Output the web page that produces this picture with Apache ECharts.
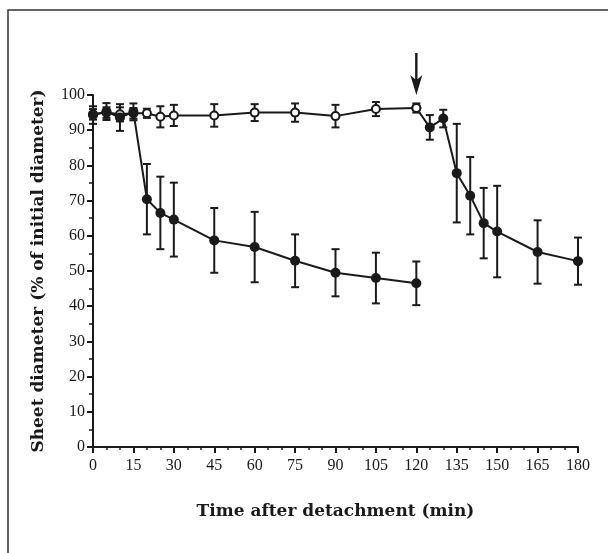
<!DOCTYPE html>
<html><head><meta charset="utf-8">
<script src="https://cdn.jsdelivr.net/npm/echarts@6/dist/echarts.min.js"></script>
<style>html,body{margin:0;padding:0;background:#fff}#c{width:608px;height:553px}</style>
</head><body><div id="c"></div>
<script>
var timeA = [0,5,10,15,20,25,30,45,60,75,90,105,120];
var openVals = [94.5,95.0,94.5,94.8,94.8,93.8,94.2,94.2,95.0,95.0,94.0,96.0,96.3];
var openErr = [1.5,1.5,2.0,1.5,1.3,3.0,3.0,3.2,2.4,2.6,3.2,2.0,1.3];
var filledVals1 = [94.3,95.3,93.6,95.2,70.4,66.5,64.6,58.7,56.8,52.9,49.5,48.0,46.5];
var filledErr1 = [2.5,2.4,3.8,2.4,10.0,10.3,10.5,9.2,10.0,7.5,6.7,7.2,6.2];
var timeB = [120,125,130,135,140,145,150,165,180];
var filledVals2 = [96.3,90.8,93.3,77.8,71.4,63.6,61.2,55.4,52.8];
var filledErr2 = [0,3.5,2.5,14.0,11.0,10.0,13.0,9.0,6.7];
var xTicks = [0,15,30,45,60,75,90,105,120,135,150,165,180];

var ink = '#1a1a1a';
var serif = '"Liberation Serif","Times New Roman",serif';
var nameFont = '"DejaVu Serif","Liberation Serif",serif';

function pairs(t, v){ return t.map(function(x,i){ return [x, v[i]]; }); }
function errData(t, v, e){ return t.map(function(x,i){ return [x, v[i]-e[i], v[i]+e[i]]; }).filter(function(d){return d[2]>d[1];}); }

function errSeries(data){
  return {
    type:'custom', data:data, z:1, silent:true,
    renderItem:function(params, api){
      var x = api.value(0);
      var lo = api.coord([x, api.value(1)]);
      var hi = api.coord([x, api.value(2)]);
      var w = 4;
      var st = {stroke:ink, lineWidth:2, fill:null};
      return {type:'group', children:[
        {type:'line', shape:{x1:lo[0],y1:lo[1],x2:hi[0],y2:hi[1]}, style:st},
        {type:'line', shape:{x1:lo[0]-w,y1:lo[1],x2:lo[0]+w,y2:lo[1]}, style:st},
        {type:'line', shape:{x1:hi[0]-w,y1:hi[1],x2:hi[0]+w,y2:hi[1]}, style:st}
      ]};
    }
  };
}

var chart = echarts.init(document.getElementById('c'));
chart.setOption({
  animation:false,
  backgroundColor:'#fff',
  graphic:[{type:'rect', shape:{x:8,y:10,width:640,height:600}, style:{fill:null, stroke:'#333', lineWidth:1.5}, z:-1}],
  grid:{left:93, right:30, top:95, bottom:106},
  xAxis:{
    type:'value', min:0, max:180, interval:15,
    name:'Time after detachment (min)', nameLocation:'middle', nameGap:56,
    nameTextStyle:{fontFamily:nameFont, fontWeight:'bold', fontSize:17, color:ink},
    axisLine:{lineStyle:{color:ink, width:2}},
    axisTick:{length:6, lineStyle:{color:ink, width:2}},
    minorTick:{show:true, splitNumber:3, length:3, lineStyle:{color:ink, width:1.5}},
    axisLabel:{fontFamily:serif, fontSize:16, color:ink, margin:11,
      formatter:function(v){ return xTicks.indexOf(v)>=0 ? String(v) : ''; }},
    splitLine:{show:false}
  },
  yAxis:{
    type:'value', min:0, max:100, interval:10,
    name:'Sheet diameter (% of initial diameter)', nameLocation:'middle', nameGap:46,
    nameTextStyle:{fontFamily:nameFont, fontWeight:'bold', fontSize:17, color:ink},
    axisLine:{lineStyle:{color:ink, width:2}},
    axisTick:{length:6, lineStyle:{color:ink, width:2}},
    minorTick:{show:true, splitNumber:2, length:4, lineStyle:{color:ink, width:1.5}},
    axisLabel:{fontFamily:serif, fontSize:16, color:ink, margin:8},
    splitLine:{show:false}
  },
  series:[
    errSeries(errData(timeA, openVals, openErr)),
    errSeries(errData(timeA, filledVals1, filledErr1)),
    errSeries(errData(timeB, filledVals2, filledErr2)),
    {type:'line', data:pairs(timeB, filledVals2), z:2,
      symbol:'circle', symbolSize:10, showAllSymbol:true,
      lineStyle:{color:ink, width:2}, itemStyle:{color:ink, borderColor:ink, borderWidth:0},
      markPoint:{symbol:'path://M4,0 L6,0 L6,25 L10,21 L5,40 L0,21 L4,25 Z', symbolSize:[12,42],
        symbolKeepAspect:false, symbolOffset:[0,-21], silent:true,
        itemStyle:{color:ink}, label:{show:false}, data:[{coord:[120,100]}]}},
    {type:'line', data:pairs(timeA, openVals), z:3,
      symbol:'circle', symbolSize:8, showAllSymbol:true,
      lineStyle:{color:ink, width:2}, itemStyle:{color:'#fff', borderColor:ink, borderWidth:2}},
    {type:'line', data:pairs(timeA, filledVals1), z:4,
      symbol:'circle', symbolSize:10, showAllSymbol:true,
      lineStyle:{color:ink, width:2}, itemStyle:{color:ink, borderColor:ink, borderWidth:0}}
  ]
});
</script></body></html>
